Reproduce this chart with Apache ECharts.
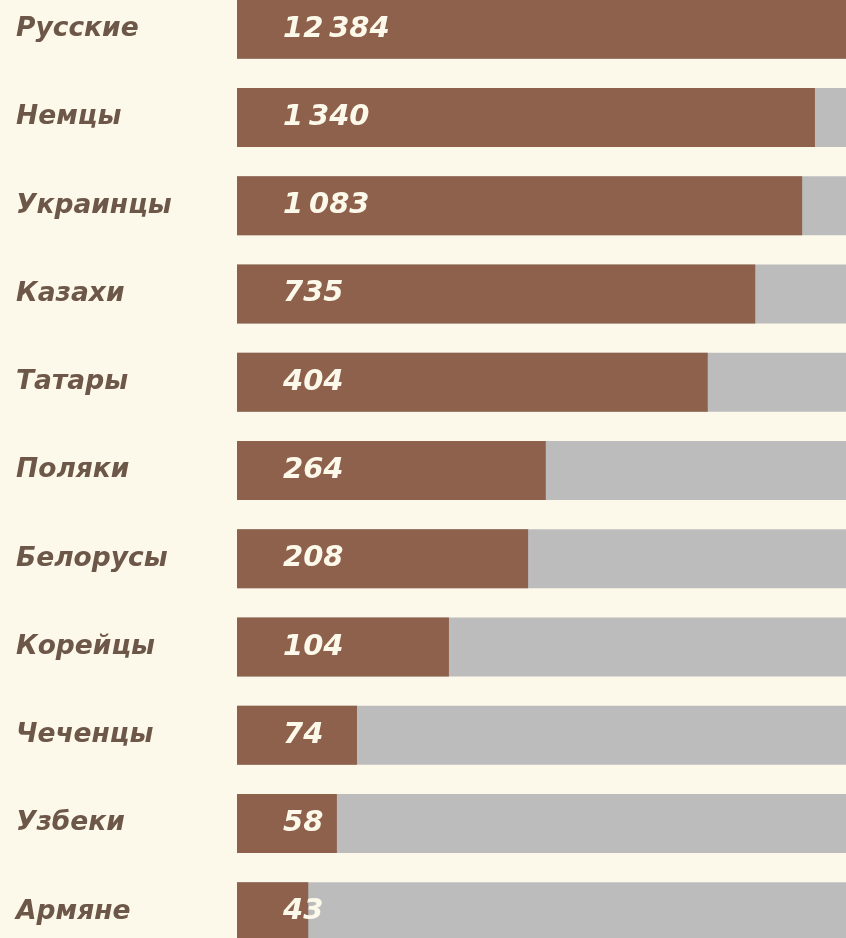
<!DOCTYPE html>
<html>
<head>
<meta charset="utf-8">
<script src="https://cdn.jsdelivr.net/npm/echarts@6/dist/echarts.min.js"></script>
<style>
html,body{margin:0;padding:0;background:#fdf9ea;overflow:hidden;}
#c{position:absolute;left:0;top:-15px;width:846px;height:971px;}
</style>
</head>
<body>
<div id="c"></div>
<script>
const categories = ['Русские','Немцы','Украинцы','Казахи','Татары','Поляки','Белорусы','Корейцы','Чеченцы','Узбеки','Армяне'];
const values = [12384, 1340, 1083, 735, 404, 264, 208, 104, 74, 58, 43];
// relative bar lengths as drawn in the infographic (not to a linear scale)
const barLength = [100, 94.9, 92.8, 85.1, 77.3, 50.7, 47.8, 34.8, 19.7, 16.4, 11.7];

function fmt(v){ return String(v).replace(/\B(?=(\d{3})+(?!\d))/g, '\u2009'); }

const chart = echarts.init(document.getElementById('c'));
chart.setOption({
  backgroundColor: '#fdf9ea',
  animation: false,
  grid: {left: 237, right: 0, top: 0, bottom: 0, containLabel: false},
  xAxis: {type: 'value', min: 0, max: 100, show: false},
  yAxis: {
    type: 'category', data: categories, inverse: true,
    axisLine: {show: false}, axisTick: {show: false},
    axisLabel: {
      margin: 221, align: 'left', color: '#6d5749',
      fontFamily: 'DejaVu Sans', fontWeight: 'bold', fontStyle: 'italic', fontSize: 26.5
    }
  },
  series: [{
    type: 'bar',
    data: barLength,
    barWidth: 59,
    itemStyle: {color: '#8d614b'},
    showBackground: true,
    backgroundStyle: {color: '#bdbcbc'},
    label: {
      show: true, position: 'insideLeft', distance: 46,
      color: '#fdf9ea', fontFamily: 'DejaVu Sans', fontWeight: 'bold', fontStyle: 'italic', fontSize: 29,
      formatter: p => fmt(values[p.dataIndex])
    }
  }]
});
</script>
</body>
</html>
